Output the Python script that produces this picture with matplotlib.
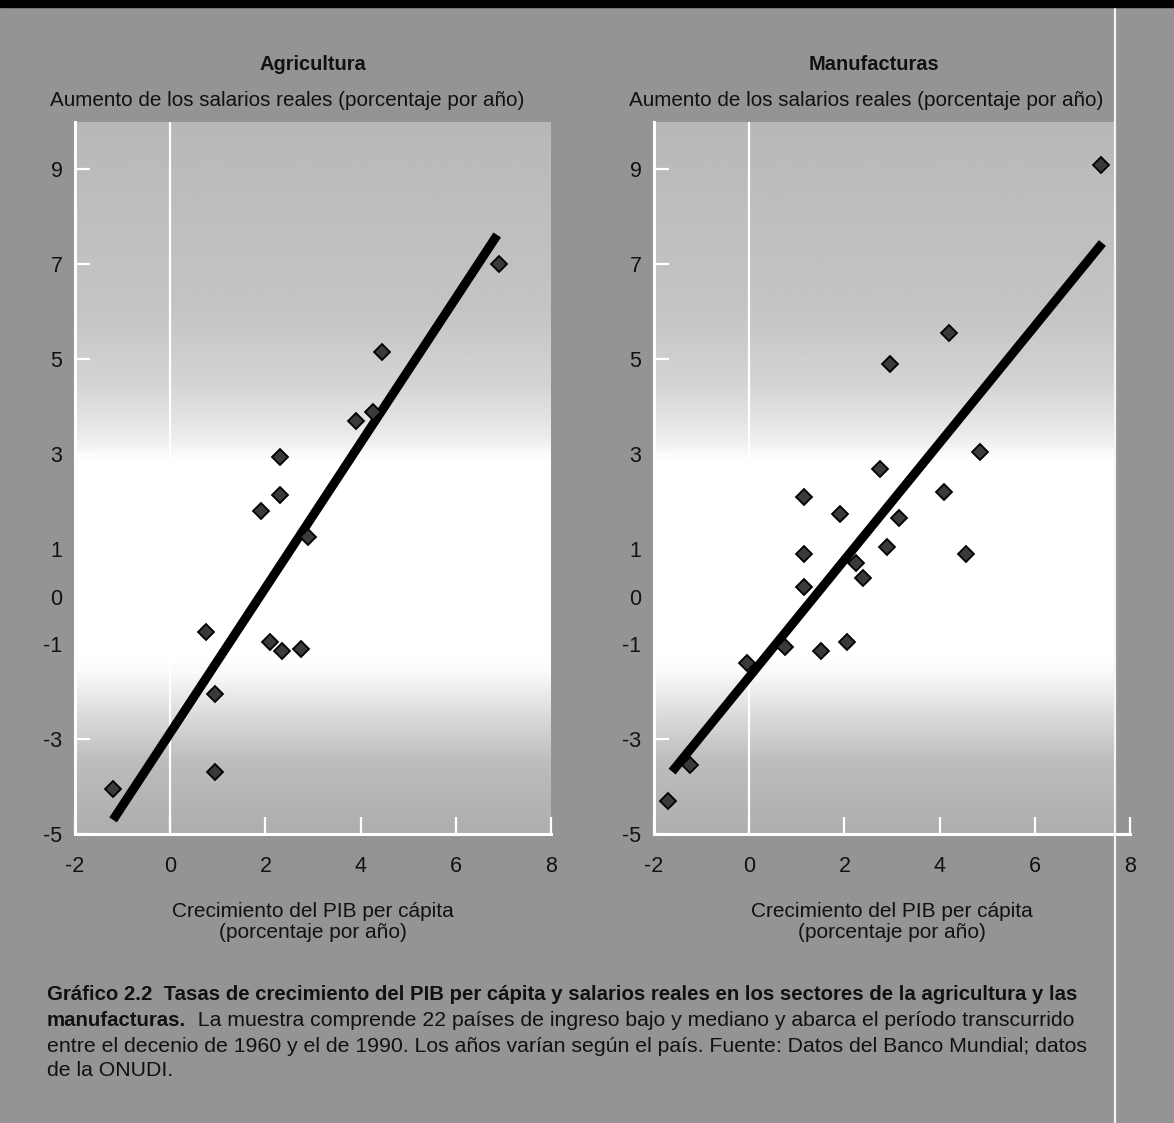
import numpy as np
import matplotlib
matplotlib.use("Agg")
import matplotlib.pyplot as plt
from matplotlib.patches import Rectangle
from matplotlib.lines import Line2D

# ==========================================
# datos
# ==========================================
agri_x = [-1.2, 0.75, 0.95, 0.95, 1.9, 2.3, 2.3, 2.9, 2.1, 2.35, 2.75, 3.9, 4.25, 4.45, 6.9]
agri_y = [-4.05, -0.75, -2.05, -3.7, 1.8, 2.95, 2.15, 1.25, -0.95, -1.15, -1.1, 3.7, 3.9, 5.15, 7.0]
agri_fit = (1.527, -2.87)        # pendiente, ordenada
agri_fit_x = [-1.2, 6.87]

manuf_x = [-1.7, -1.25, -0.05, 0.75, 1.15, 1.15, 1.15, 1.5, 1.9, 2.05, 2.25,
           2.4, 2.75, 2.9, 2.95, 3.15, 4.1, 4.2, 4.55, 4.85, 7.4]
manuf_y = [-4.3, -3.55, -1.4, -1.05, 0.2, 0.9, 2.1, -1.15, 1.75, -0.95, 0.7,
           0.4, 2.7, 1.05, 4.9, 1.65, 2.2, 5.55, 0.9, 3.05, 9.1]
manuf_fit = (1.232, -1.69)
manuf_fit_x = [-1.62, 7.42]

x_ticks = [-2, 0, 2, 4, 6, 8]
y_ticks = [9, 7, 5, 3, 1, 0, -1, -3, -5]

titles = ["Agricultura", "Manufacturas"]
y_label = "Aumento de los salarios reales (porcentaje por año)"
x_label = "Crecimiento del PIB per cápita\n(porcentaje por año)"
caption_bold_1 = ("Gráfico 2.2  Tasas de crecimiento del PIB per cápita y salarios reales "
                  "en los sectores de la agricultura y las")
caption_bold_2 = "manufacturas."
caption_2 = ("  La muestra comprende 22 países de ingreso bajo y mediano y abarca "
             "el período transcurrido")
caption_3 = ("entre el decenio de 1960 y el de 1990. Los años varían según el país. "
             "Fuente: Datos del Banco Mundial; datos")
caption_4 = "de la ONUDI."

# ==========================================
# estilo
# ==========================================
plt.rcParams['font.family'] = ['Liberation Sans', 'DejaVu Sans']
plt.rcParams['axes.unicode_minus'] = False
OUTER = '#949494'
INK = '#111111'

W, H = 1174, 1123
fig = plt.figure(figsize=(W / 100, H / 100), dpi=100, facecolor=OUTER)

# franja negra arriba y linea blanca vertical del escaneo
fig.patches.append(Rectangle((0, 1 - 7 / H), 1, 7 / H, transform=fig.transFigure,
                             color='black', zorder=0))
fig.lines.append(Line2D([1115 / W, 1115 / W], [0, 1 - 7 / H], transform=fig.transFigure,
                        color='#f4f4f4', lw=1.6, zorder=0))

# degradado del fondo de cada panel (gris arriba y abajo, blanco al centro)
grad_y = np.linspace(-5, 10, 300)
grad_v = np.interp(grad_y, [-5, -3.5, -2.5, -1.6, -1.3, 2.9, 3.3, 4.5, 6, 10],
                   [0.68, 0.74, 0.86, 0.98, 1.0, 1.0, 0.93, 0.83, 0.77, 0.72])
grad_img = np.repeat(grad_v[::-1, None], 2, axis=1)

panels = [
    (75 / W, agri_x, agri_y, agri_fit, agri_fit_x, 8.0, 0.0),
    (654 / W, manuf_x, manuf_y, manuf_fit, manuf_fit_x, 7.68, -0.038),
]
ax_w = 476 / W
ax_b = 1 - 834 / H
ax_h = 712 / H

for i, (left, xs, ys, fit, fit_x, bg_right, title_dx) in enumerate(panels):
    ax = fig.add_axes([left, ax_b, ax_w, ax_h])
    ax.set_facecolor('none')
    ax.set_xlim(-2, 8)
    ax.set_ylim(-5, 10)

    ax.imshow(grad_img, extent=[-2, bg_right, -5, 10], aspect='auto', cmap='gray',
              vmin=0, vmax=1, zorder=0, interpolation='bilinear')

    # linea x = 0
    ax.axvline(0, color='white', lw=1.6, zorder=1)

    # recta de regresion
    fx = np.array(fit_x)
    ax.plot(fx, fit[0] * fx + fit[1], color='black', lw=6.5,
            solid_capstyle='butt', zorder=2)
    ax.plot(xs, ys, ls='none', marker='D', ms=8, mfc='#3a3a3a', mec='black',
            mew=1.3, zorder=3)

    for side in ['top', 'right']:
        ax.spines[side].set_visible(False)
    for side in ['left', 'bottom']:
        ax.spines[side].set_color('white')
        ax.spines[side].set_linewidth(2.2)
        ax.spines[side].set_zorder(4)

    ax.set_xticks(x_ticks)
    ax.set_yticks(y_ticks)
    ax.tick_params(axis='y', direction='in', length=11, width=1.6, color='white',
                   pad=9, labelsize=15.5, labelcolor=INK)
    ax.tick_params(axis='x', direction='in', length=12, width=1.6, color='white',
                   pad=16, labelsize=15.5, labelcolor=INK)

    ax.set_xlabel(x_label, fontsize=15, color=INK, labelpad=18, linespacing=1.15)
    ax.text(-0.053, 1.03, y_label, transform=ax.transAxes, ha='left', va='center',
            fontsize=14.9, color=INK)
    ax.text(0.5 + title_dx, 1.081, titles[i], transform=ax.transAxes, ha='center',
            va='center', fontsize=14.4, fontweight='bold', color=INK)

# pie de figura
cap_x = 47 / W
fig.text(cap_x, 1 - 995 / H, caption_bold_1, fontsize=14.7, fontweight='bold',
         color=INK, va='center')
t_bold = fig.text(cap_x, 1 - 1020 / H, caption_bold_2, fontsize=14.7, fontweight='bold',
                  color=INK, va='center')
fig.canvas.draw()
bb = t_bold.get_window_extent()
fig.text(bb.x1 / W, 1 - 1020 / H, caption_2, fontsize=15.3, color=INK, va='center')
fig.text(cap_x, 1 - 1046 / H, caption_3, fontsize=15.3, color=INK, va='center')
fig.text(cap_x, 1 - 1070 / H, caption_4, fontsize=15.3, color=INK, va='center')

plt.savefig("out.png", dpi=100, facecolor=fig.get_facecolor())
